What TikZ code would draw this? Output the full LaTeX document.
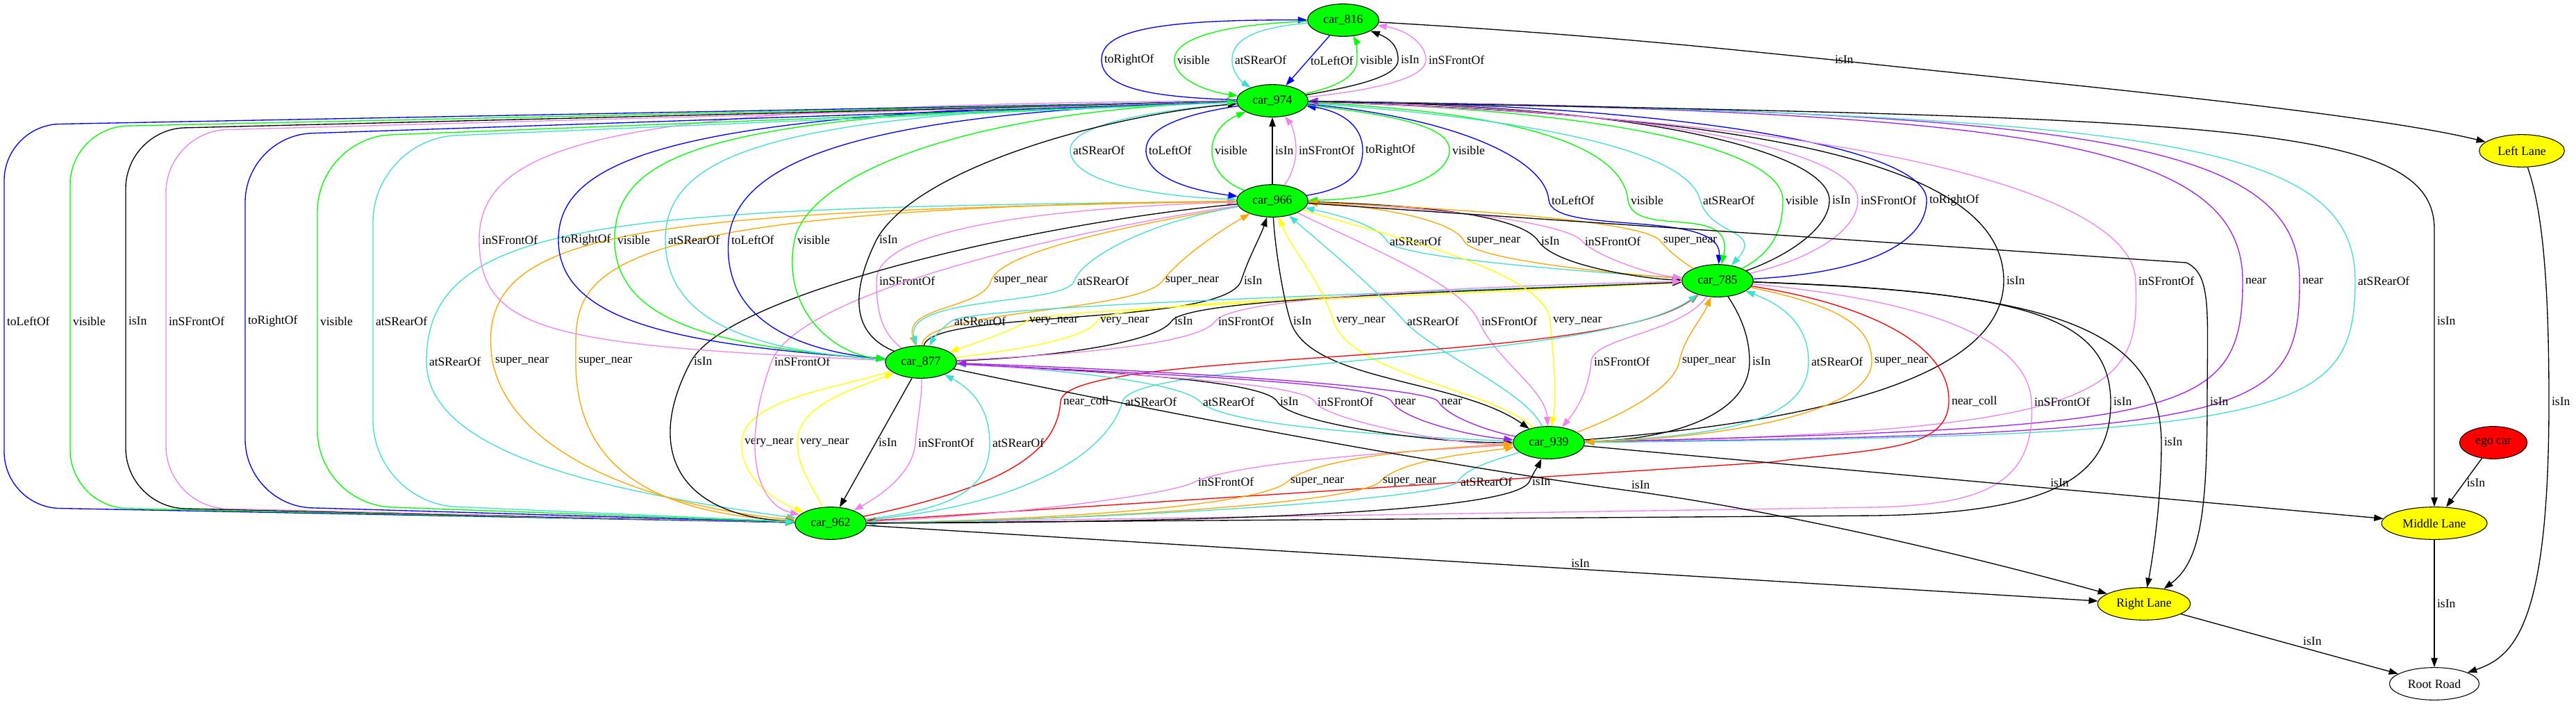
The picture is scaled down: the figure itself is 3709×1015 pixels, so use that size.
\documentclass[tikz,border=0pt]{standalone}
\usepackage{fontspec}
\setmainfont{Liberation Serif}
\usetikzlibrary{arrows.meta,shapes.geometric}
\definecolor{gvgreen}{HTML}{00FF00}
\definecolor{gvblue}{HTML}{0000FF}
\definecolor{gvturq}{HTML}{40E0D0}
\definecolor{gvviolet}{HTML}{EE82EE}
\definecolor{gvorange}{HTML}{FFA500}
\definecolor{gvyellow}{HTML}{FFFF00}
\definecolor{gvpurple}{HTML}{A020F0}
\definecolor{gvred}{HTML}{FF0000}
\tikzset{
  car/.style={ellipse, draw, line width=0.8pt, fill=gvgreen, minimum width=77pt,
    minimum height=35pt, inner sep=0pt, font=\fontsize{13.3}{15}\selectfont},
  lane/.style={car, fill=gvyellow},
  rel/.style={-{Triangle[length=10pt,width=7pt]}, line width=1pt},
  lab/.style={anchor=west, inner xsep=2.5pt, inner ysep=1pt, text=black,
    font=\fontsize{13.2}{15}\selectfont}
}
\begin{document}
\begin{tikzpicture}[x=0.75pt, y=0.75pt]
  \useasboundingbox (0,0) rectangle (3709,-1015);

  % nodes
  \node[car] (c816) at (1934,-29) {car\_816};
  \node[car] (c974) at (1832,-145) {car\_974};
  \node[car] (c966) at (1832,-289) {car\_966};
  \node[car] (c785) at (2473,-404) {car\_785};
  \node[car] (c877) at (1326,-521) {car\_877};
  \node[car] (c939) at (2230,-637) {car\_939};
  \node[car] (c962) at (1196,-753) {car\_962};
  \node[car, fill=gvred, minimum width=73pt] (ego) at (3590,-637) {ego car};
  \node[lane, minimum width=92pt] (leftl) at (3631,-217) {Left Lane};
  \node[lane, minimum width=114pt] (midl) at (3505,-753) {Middle Lane};
  \node[lane, minimum width=100pt] (rightl) at (3087,-869) {Right Lane};
  \node[car, fill=white, minimum width=97pt] (root) at (3505,-984) {Root Road};

  % car_816 / car_974
  \draw[rel,gvblue] (c974) .. controls (1650,-140) and (1586,-125) .. (1586,-86) node[lab]{toRightOf} .. controls (1586,-45) and (1660,-28) .. (c816);
  \draw[rel,gvgreen] (c816) .. controls (1760,-35) and (1691,-55) .. (1691,-86) node[lab]{visible} .. controls (1691,-115) and (1740,-132) .. (c974);
  \draw[rel,gvturq] (c816) .. controls (1800,-40) and (1774,-60) .. (1774,-86) node[lab]{atSRearOf} .. controls (1774,-105) and (1788,-118) .. (c974);
  \draw[rel,gvblue] (c816) -- node[lab]{toLeftOf} (c974);
  \draw[rel,gvgreen] (c974) .. controls (1925,-125) and (1954,-110) .. (1954,-86) node[lab]{visible} .. controls (1954,-70) and (1953,-60) .. (c816);
  \draw[rel] (c974) .. controls (1965,-122) and (2013,-108) .. (2013,-86) node[lab]{isIn} .. controls (2013,-65) and (2000,-55) .. (c816);
  \draw[rel,gvviolet] (c974) .. controls (1995,-128) and (2053,-110) .. (2053,-86) node[lab]{inSFrontOf} .. controls (2053,-60) and (2020,-42) .. (c816);
  \draw[rel] (c816) .. controls (2300,-50) and (2500,-72) .. (2638,-86) node[lab]{isIn} .. controls (2900,-115) and (3400,-160) .. (leftl);

  % car_974 / car_966
  \draw[rel,gvturq] (c974) .. controls (1650,-160) and (1541,-180) .. (1541,-216) node[lab]{atSRearOf} .. controls (1541,-260) and (1650,-282) .. (c966);
  \draw[rel,gvblue] (c974) .. controls (1700,-165) and (1650,-185) .. (1650,-216) node[lab]{toLeftOf} .. controls (1650,-250) and (1700,-272) .. (c966);
  \draw[rel,gvgreen] (c966) .. controls (1760,-262) and (1745,-240) .. (1745,-216) node[lab]{visible} .. controls (1745,-195) and (1760,-175) .. (c974);
  \draw[rel] (c966) -- node[lab]{isIn} (c974);
  \draw[rel,gvviolet] (c966) .. controls (1858,-255) and (1866,-235) .. (1866,-216) node[lab]{inSFrontOf} .. controls (1866,-195) and (1860,-180) .. (c974);
  \draw[rel,gvblue] (c966) .. controls (1940,-272) and (1962,-250) .. (1962,-216) node[lab]{toRightOf} .. controls (1962,-180) and (1930,-160) .. (c974);
  \draw[rel,gvgreen] (c974) .. controls (2000,-165) and (2087,-180) .. (2087,-216) node[lab]{visible} .. controls (2087,-262) and (1980,-287) .. (c966);

  % car_974 / car_785
  \draw[rel,gvblue] (c974) .. controls (2100,-170) and (2225,-230) .. (2230,-288) node[lab]{toLeftOf} .. controls (2235,-340) and (2480,-300) .. (c785);
  \draw[rel,gvgreen] (c974) .. controls (2150,-160) and (2335,-200) .. (2344,-288) node[lab]{visible} .. controls (2352,-345) and (2500,-290) .. (c785);
  \draw[rel,gvturq] (c974) .. controls (2200,-170) and (2430,-215) .. (2448,-288) node[lab]{atSRearOf} .. controls (2462,-340) and (2540,-330) .. (c785);
  \draw[rel,gvgreen] (c785) .. controls (2560,-360) and (2567,-320) .. (2567,-288) node[lab]{visible} .. controls (2567,-220) and (2350,-160) .. (c974);
  \draw[rel] (c785) .. controls (2570,-370) and (2634,-330) .. (2634,-288) node[lab]{isIn} .. controls (2634,-225) and (2400,-152) .. (c974);
  \draw[rel,gvviolet] (c785) .. controls (2600,-375) and (2675,-335) .. (2675,-288) node[lab]{inSFrontOf} .. controls (2675,-220) and (2400,-156) .. (c974);
  \draw[rel,gvblue] (c785) .. controls (2700,-392) and (2774,-345) .. (2774,-288) node[lab]{toRightOf} .. controls (2774,-210) and (2400,-150) .. (c974);

  % car_974 / car_939, Middle Lane
  \draw[rel] (c939) .. controls (2700,-600) and (2885,-520) .. (2885,-404) node[lab]{isIn} .. controls (2885,-250) and (2600,-168) .. (c974);
  \draw[rel,gvviolet] (c939) .. controls (3060,-622) and (3080,-560) .. (3075,-404) node[lab]{inSFrontOf} .. controls (3072,-290) and (2750,-175) .. (c974);
  \draw[rel,gvpurple] (c974) .. controls (2900,-160) and (3229,-200) .. (3229,-404) node[lab]{near} .. controls (3229,-600) and (3150,-615) .. (c939);
  \draw[rel,gvpurple] (c939) .. controls (3250,-625) and (3311,-600) .. (3311,-404) node[lab]{near} .. controls (3311,-200) and (3000,-160) .. (c974);
  \draw[rel,gvturq] (c974) .. controls (3100,-165) and (3391,-200) .. (3391,-404) node[lab]{atSRearOf} .. controls (3391,-600) and (3300,-628) .. (c939);
  \draw[rel] (c974) .. controls (3200,-170) and (3505,-175) .. (3505,-330) -- (3505,-462) node[lab]{isIn} -- (midl);

  % car_966 / car_785
  \draw[rel,gvturq] (c785) .. controls (2300,-392) and (2010,-372) .. (1997,-347) node[lab]{atSRearOf} .. controls (1985,-325) and (1930,-310) .. (c966);
  \draw[rel,gvorange] (c785) .. controls (2300,-392) and (2120,-372) .. (2108,-347) node[lab]{super\_near} .. controls (2096,-320) and (2000,-298) .. (c966);
  \draw[rel] (c966) .. controls (2050,-295) and (2190,-310) .. (2215,-347) node[lab]{isIn} .. controls (2240,-385) and (2380,-402) .. (c785);
  \draw[rel,gvviolet] (c966) .. controls (2100,-300) and (2255,-322) .. (2278,-347) node[lab]{inSFrontOf} .. controls (2300,-370) and (2380,-396) .. (c785);
  \draw[rel,gvorange] (c785) .. controls (2430,-382) and (2402,-362) .. (2391,-347) node[lab]{super\_near} .. controls (2370,-318) and (2100,-300) .. (c966);

  % car_966 / car_877
  \draw[rel,gvviolet] (c877) .. controls (1270,-480) and (1262,-450) .. (1262,-404) node[lab]{inSFrontOf} .. controls (1262,-330) and (1500,-300) .. (c966);
  \draw[rel,gvorange] (c966) .. controls (1650,-320) and (1440,-360) .. (1427,-404) node[lab]{super\_near} .. controls (1415,-445) and (1300,-440) .. (c877);
  \draw[rel,gvturq] (c966) .. controls (1650,-320) and (1558,-372) .. (1547,-404) node[lab]{atSRearOf} .. controls (1535,-440) and (1300,-425) .. (c877);
  \draw[rel,gvorange] (c877) .. controls (1330,-445) and (1640,-450) .. (1674,-404) node[lab]{super\_near} .. controls (1700,-370) and (1760,-330) .. (c966);
  \draw[rel] (c877) .. controls (1340,-445) and (1765,-470) .. (1787,-404) node[lab]{isIn} .. controls (1798,-370) and (1815,-340) .. (c966);

  % car_785 / car_877, car_966 / car_939
  \draw[rel,gvturq] (c785) .. controls (2000,-422) and (1400,-440) .. (1370,-462) node[lab]{atSRearOf} .. controls (1355,-473) and (1345,-485) .. (c877);
  \draw[rel,gvyellow] (c785) .. controls (2000,-428) and (1500,-445) .. (1478,-462) node[lab]{very\_near} .. controls (1460,-476) and (1400,-495) .. (c877);
  \draw[rel,gvyellow] (c877) .. controls (1450,-505) and (1562,-490) .. (1580,-462) node[lab]{very\_near} .. controls (1598,-434) and (2000,-425) .. (c785);
  \draw[rel] (c877) .. controls (1500,-515) and (1665,-495) .. (1687,-462) node[lab]{isIn} .. controls (1709,-429) and (2100,-420) .. (c785);
  \draw[rel,gvviolet] (c877) .. controls (1550,-510) and (1728,-495) .. (1750,-462) node[lab]{inSFrontOf} .. controls (1772,-429) and (2100,-412) .. (c785);
  \draw[rel] (c966) .. controls (1836,-360) and (1848,-430) .. (1858,-462) node[lab]{isIn} .. controls (1885,-550) and (2100,-545) .. (c939);
  \draw[rel,gvyellow] (c939) .. controls (2150,-560) and (1945,-540) .. (1920,-462) node[lab]{very\_near} .. controls (1900,-400) and (1860,-360) .. (c966);
  \draw[rel,gvturq] (c939) .. controls (2200,-565) and (2060,-505) .. (2022,-462) node[lab]{atSRearOf} .. controls (1970,-405) and (1890,-340) .. (c966);
  \draw[rel,gvviolet] (c966) .. controls (1980,-360) and (2105,-410) .. (2129,-462) node[lab]{inSFrontOf} .. controls (2155,-520) and (2225,-560) .. (c939);
  \draw[rel,gvyellow] (c966) .. controls (2000,-340) and (2226,-390) .. (2232,-462) node[lab]{very\_near} .. controls (2237,-520) and (2242,-570) .. (c939);

  % car_877 / car_939, car_962 / car_785
  \draw[rel,gvred] (c962) .. controls (1450,-700) and (1522,-650) .. (1527,-578) node[lab]{near\_coll} .. controls (1532,-500) and (2300,-530) .. (c785);
  \draw[rel,gvturq] (c962) .. controls (1500,-725) and (1600,-640) .. (1616,-578) node[lab]{atSRearOf} .. controls (1632,-516) and (2300,-525) .. (c785);
  \draw[rel,gvturq] (c939) .. controls (2000,-628) and (1760,-612) .. (1728,-578) node[lab]{atSRearOf} .. controls (1700,-548) and (1500,-530) .. (c877);
  \draw[rel] (c877) .. controls (1600,-535) and (1822,-548) .. (1839,-578) node[lab]{isIn} .. controls (1856,-608) and (2050,-637) .. (c939);
  \draw[rel,gvviolet] (c877) .. controls (1650,-540) and (1880,-552) .. (1893,-578) node[lab]{inSFrontOf} .. controls (1906,-604) and (2100,-642) .. (c939);
  \draw[rel,gvpurple] (c877) .. controls (1700,-540) and (1990,-552) .. (2004,-578) node[lab]{near} .. controls (2018,-604) and (2120,-628) .. (c939);
  \draw[rel,gvpurple] (c939) .. controls (2150,-622) and (2086,-602) .. (2071,-578) node[lab]{near} .. controls (2056,-554) and (1600,-530) .. (c877);

  % car_785 / car_939, car_962, Right Lane
  \draw[rel,gvred] (c785) .. controls (2700,-440) and (2808,-500) .. (2806,-578) node[lab]{near\_coll} .. controls (2804,-650) and (2700,-645) .. (2550,-665) -- (c962);
  \draw[rel,gvviolet] (c785) .. controls (2750,-430) and (2920,-480) .. (2925,-578) node[lab]{inSFrontOf} .. controls (2932,-700) and (2850,-726) .. (2700,-730) -- (c962);
  \draw[rel] (c785) .. controls (2900,-420) and (3038,-450) .. (3039,-578) node[lab]{isIn} .. controls (3040,-690) and (2950,-738) .. (2700,-742) -- (c962);
  \draw[rel] (c966) -- (3148,-378) .. controls (3185,-395) and (3178,-450) .. (3178,-578) node[lab]{isIn} .. controls (3178,-750) and (3165,-810) .. (rightl);
  \draw[rel] (c785) .. controls (2950,-420) and (3110,-470) .. (3112,-636) node[lab]{isIn} .. controls (3112,-720) and (3100,-800) .. (rightl);
  \draw[rel,gvviolet] (c785) .. controls (2420,-480) and (2294,-485) .. (2291,-520) node[lab]{inSFrontOf} .. controls (2288,-560) and (2270,-590) .. (c939);
  \draw[rel,gvorange] (c939) .. controls (2330,-600) and (2410,-560) .. (2418,-520) node[lab]{super\_near} .. controls (2425,-485) and (2450,-460) .. (c785);
  \draw[rel] (c785) .. controls (2510,-460) and (2519,-490) .. (2519,-520) node[lab]{isIn} .. controls (2519,-600) and (2400,-632) .. (c939);
  \draw[rel,gvturq] (c939) .. controls (2500,-628) and (2604,-600) .. (2604,-520) node[lab]{atSRearOf} .. controls (2604,-470) and (2570,-440) .. (c785);
  \draw[rel,gvorange] (c785) .. controls (2650,-440) and (2695,-470) .. (2695,-520) node[lab]{super\_near} .. controls (2695,-600) and (2450,-632) .. (c939);

  % car_962 / car_939
  \draw[rel,gvviolet] (c962) .. controls (1450,-742) and (1690,-712) .. (1721,-693) node[lab]{inSFrontOf} .. controls (1800,-660) and (2100,-645) .. (c939);
  \draw[rel,gvorange] (c962) .. controls (1550,-748) and (1820,-725) .. (1854,-693) node[lab]{super\_near} .. controls (1890,-660) and (2050,-645) .. (c939);
  \draw[rel,gvorange] (c962) .. controls (1600,-748) and (1960,-722) .. (1987,-693) node[lab]{super\_near} .. controls (2016,-662) and (2120,-652) .. (c939);
  \draw[rel,gvturq] (c939) .. controls (2160,-660) and (2112,-672) .. (2099,-693) node[lab]{atSRearOf} .. controls (2084,-718) and (1600,-748) .. (c962);
  \draw[rel] (c962) .. controls (1700,-752) and (2180,-740) .. (2202,-693) node[lab]{isIn} .. controls (2210,-676) and (2215,-670) .. (c939);

  % lanes and road
  \draw[rel] (c877) .. controls (1800,-620) and (2150,-680) .. (2345,-706) node[lab,anchor=south west]{isIn} .. controls (2540,-732) and (2800,-790) .. (rightl);
  \draw[rel] (c962) -- node[lab,pos=.57,anchor=south west]{isIn} (rightl);
  \draw[rel] (c939) -- node[lab,pos=.58,anchor=south west]{isIn} (midl);
  \draw[rel] (ego) -- node[lab]{isIn} (midl);
  \draw[rel] (midl) -- node[lab]{isIn} (root);
  \draw[rel] (rightl) -- node[lab,pos=.55,anchor=south west]{isIn} (root);
  \draw[rel] (leftl) .. controls (3660,-300) and (3670,-400) .. (3670,-578) node[lab]{isIn} .. controls (3670,-900) and (3620,-945) .. (root);

  % car_877 / car_962
  \draw[rel,gvyellow] (c877) .. controls (1200,-560) and (1070,-575) .. (1068,-637) node[lab]{very\_near} .. controls (1066,-690) and (1120,-722) .. (c962);
  \draw[rel,gvyellow] (c962) .. controls (1170,-700) and (1148,-672) .. (1148,-637) node[lab]{very\_near} .. controls (1148,-582) and (1230,-560) .. (c877);
  \draw[rel] (c877) -- node[lab]{isIn} (c962);
  \draw[rel,gvviolet] (c877) .. controls (1328,-570) and (1320,-610) .. (1318,-637) node[lab]{inSFrontOf} .. controls (1315,-680) and (1270,-712) .. (c962);
  \draw[rel,gvturq] (c962) .. controls (1380,-732) and (1425,-700) .. (1425,-637) node[lab]{atSRearOf} .. controls (1425,-580) and (1390,-555) .. (c877);

  % car_966 / car_962
  \draw[rel,gvturq] (c966) .. controls (900,-300) and (614,-310) .. (614,-520) node[lab]{atSRearOf} .. controls (614,-660) and (900,-710) .. (c962);
  \draw[rel,gvorange] (c966) .. controls (900,-305) and (680,-330) .. (709,-520) node[lab]{super\_near} .. controls (738,-660) and (950,-730) .. (c962);
  \draw[rel,gvorange] (c966) .. controls (800,-300) and (829,-400) .. (829,-520) node[lab]{super\_near} .. controls (829,-680) and (950,-738) .. (c962);
  \draw[rel] (c966) .. controls (1500,-320) and (1050,-420) .. (995,-520) node[lab]{isIn} .. controls (925,-650) and (980,-742) .. (c962);
  \draw[rel,gvviolet] (c966) .. controls (1550,-330) and (1150,-420) .. (1111,-520) node[lab]{inSFrontOf} .. controls (1072,-625) and (1080,-722) .. (c962);

  % car_974 / car_877
  \draw[rel,gvviolet] (c877) .. controls (800,-497) and (690,-480) .. (690,-345) node[lab]{inSFrontOf} .. controls (690,-200) and (900,-150) .. (c974);
  \draw[rel,gvblue] (c877) .. controls (1000,-497) and (804,-470) .. (804,-345) node[lab]{toRightOf} .. controls (804,-220) and (1000,-158) .. (c974);
  \draw[rel,gvgreen] (c877) .. controls (1050,-500) and (885,-470) .. (885,-345) node[lab]{visible} .. controls (885,-210) and (1050,-160) .. (c974);
  \draw[rel,gvturq] (c974) .. controls (1150,-160) and (958,-210) .. (958,-345) node[lab]{atSRearOf} .. controls (958,-470) and (1100,-505) .. (c877);
  \draw[rel,gvblue] (c974) .. controls (1250,-160) and (1060,-228) .. (1049,-345) node[lab]{toLeftOf} .. controls (1040,-460) and (1150,-505) .. (c877);
  \draw[rel,gvgreen] (c974) .. controls (1350,-160) and (1160,-265) .. (1144,-345) node[lab]{visible} .. controls (1124,-445) and (1200,-510) .. (c877);
  \draw[rel] (c877) .. controls (1225,-480) and (1225,-420) .. (1262,-345) node[lab]{isIn} .. controls (1320,-240) and (1600,-165) .. (c974);

  % car_974 / car_962
  \draw[rel,gvblue,rounded corners=60pt] (c974) -- (6,-180) -- (6,-462) node[lab]{toLeftOf} -- (6,-730) -- (c962);
  \draw[rel,gvgreen,rounded corners=62pt] (c974) -- (101,-183) -- (101,-462) node[lab]{visible} -- (101,-730) -- (c962);
  \draw[rel,rounded corners=64pt] (c962) -- (181,-730) -- (181,-462) node[lab]{isIn} -- (181,-186) -- (c974);
  \draw[rel,gvviolet,rounded corners=66pt] (c962) -- (239,-730) -- (239,-462) node[lab]{inSFrontOf} -- (239,-189) -- (c974);
  \draw[rel,gvblue,rounded corners=72pt] (c962) -- (353,-728) -- (353,-462) node[lab]{toRightOf} -- (353,-195) -- (c974);
  \draw[rel,gvgreen,rounded corners=80pt] (c962) -- (457,-726) -- (457,-462) node[lab]{visible} -- (457,-198) -- (c974);
  \draw[rel,gvturq,rounded corners=90pt] (c974) -- (537,-200) -- (537,-462) node[lab]{atSRearOf} -- (537,-724) -- (c962);
\end{tikzpicture}
\end{document}
